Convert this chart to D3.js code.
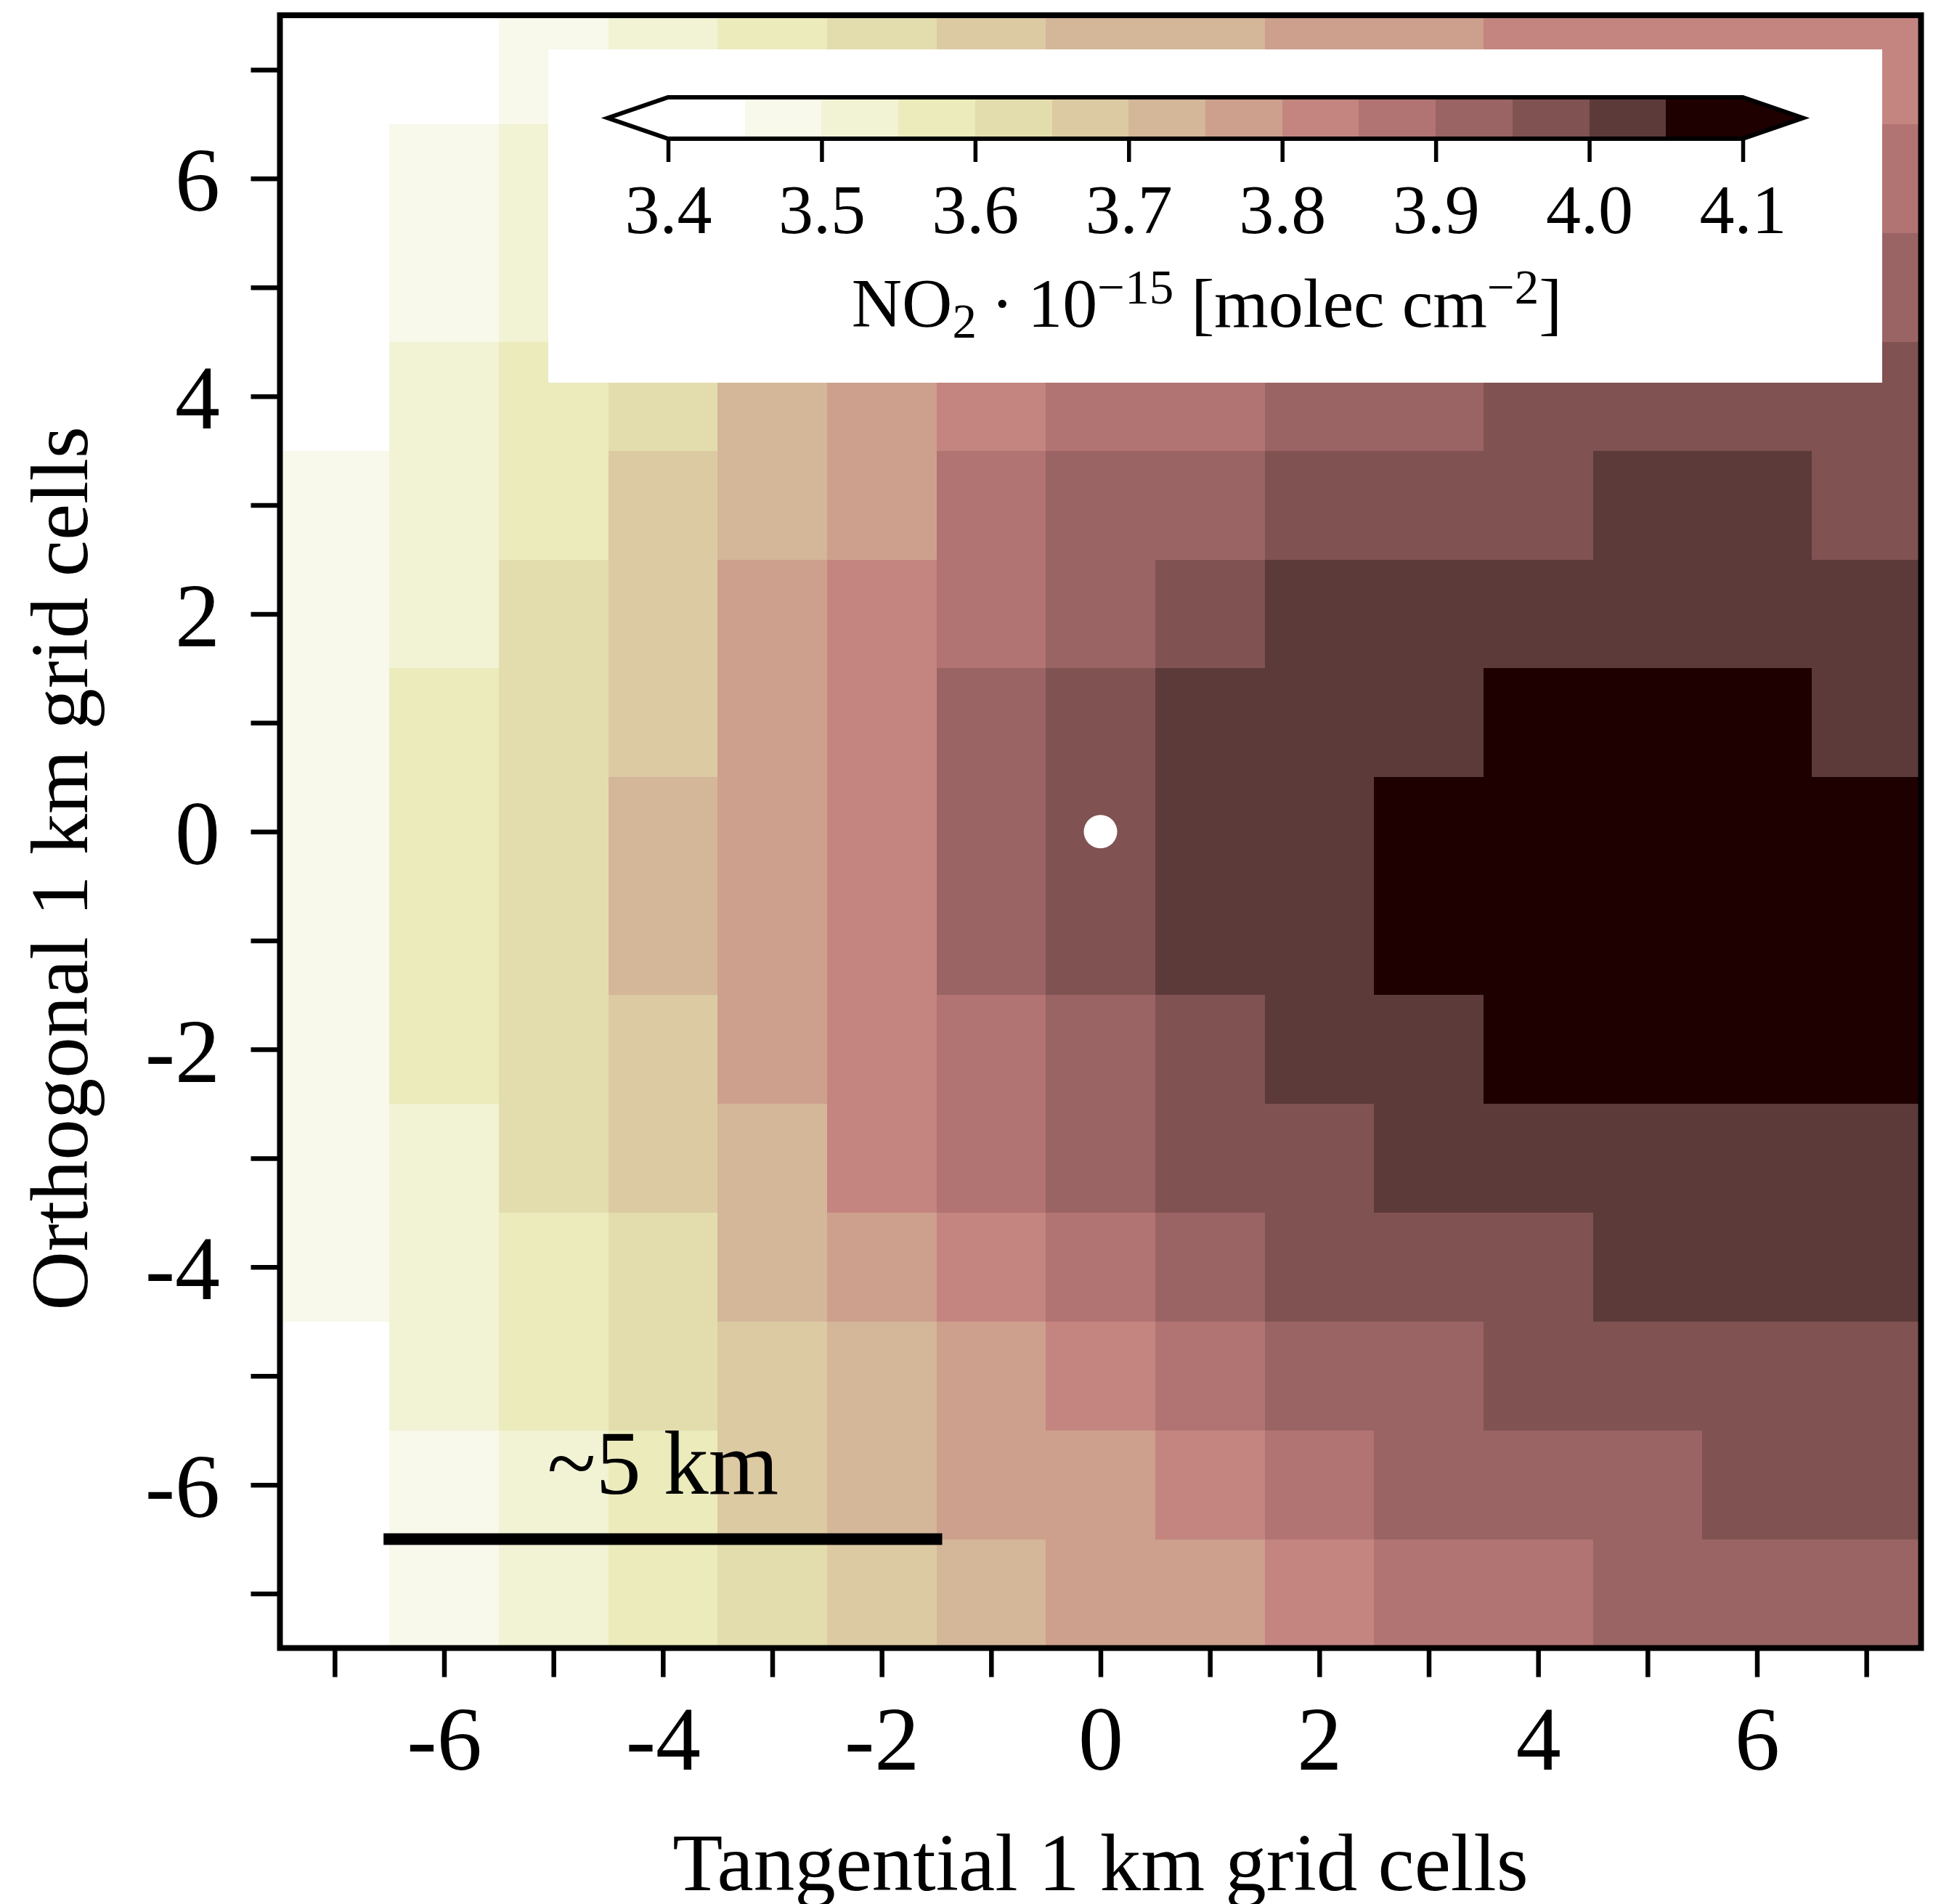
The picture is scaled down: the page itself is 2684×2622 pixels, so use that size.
<!DOCTYPE html>
<html>
<head>
<meta charset="utf-8">
<script src="https://cdn.jsdelivr.net/npm/d3@7"></script>
<style>
  body { margin: 0; background: #fff; }
  svg { display: block; }
  text { font-family: "Liberation Serif", "Times New Roman", serif; fill: #000; }
</style>
</head>
<body>
<svg id="chart" width="2684" height="2622"></svg>
<script>
// ---------------- DATA ----------------
const xCells = [-7, -6, -5, -4, -3, -2, -1, 0, 1, 2, 3, 4, 5, 6, 7];
const yCells = [7, 6, 5, 4, 3, 2, 1, 0, -1, -2, -3, -4, -5, -6, -7];
const xTicks = [-6, -4, -2, 0, 2, 4, 6];
const yTicks = [-6, -4, -2, 0, 2, 4, 6];
const levels = [3.40, 3.45, 3.50, 3.55, 3.60, 3.65, 3.70, 3.75, 3.80, 3.85, 3.90, 3.95, 4.00, 4.05, 4.10];
const colorbarTicks = [3.4, 3.5, 3.6, 3.7, 3.8, 3.9, 4.0, 4.1];

// NO2 * 1e-15 [molec cm^-2], one array per orthogonal row (y = 7 ... -7), columns x = -7 ... 7
const rowP7 = [3.38, 3.42, 3.47, 3.52, 3.58, 3.63, 3.68, 3.72, 3.74, 3.77, 3.79, 3.81, 3.82, 3.83, 3.83];
const rowP6 = [3.41, 3.46, 3.53, 3.58, 3.63, 3.68, 3.73, 3.77, 3.79, 3.82, 3.84, 3.86, 3.87, 3.88, 3.87];
const rowP5 = [3.42, 3.48, 3.53, 3.59, 3.66, 3.72, 3.78, 3.82, 3.84, 3.87, 3.89, 3.91, 3.92, 3.93, 3.92];
const rowP4 = [3.43, 3.52, 3.57, 3.62, 3.72, 3.78, 3.82, 3.86, 3.88, 3.91, 3.93, 3.96, 3.97, 3.98, 3.97];
const rowP3 = [3.46, 3.53, 3.58, 3.68, 3.73, 3.78, 3.87, 3.91, 3.94, 3.96, 3.98, 3.99, 4.01, 4.02, 3.99];
const rowP2 = [3.47, 3.54, 3.62, 3.67, 3.77, 3.82, 3.88, 3.93, 3.97, 4.01, 4.02, 4.03, 4.04, 4.04, 4.02];
const rowP1 = [3.48, 3.56, 3.61, 3.69, 3.78, 3.83, 3.92, 3.98, 4.02, 4.03, 4.04, 4.07, 4.09, 4.08, 4.04];
const row0  = [3.48, 3.57, 3.62, 3.71, 3.78, 3.84, 3.93, 3.99, 4.03, 4.04, 4.07, 4.11, 4.13, 4.12, 4.09];
const rowM1 = [3.47, 3.56, 3.62, 3.71, 3.77, 3.83, 3.92, 3.98, 4.02, 4.04, 4.06, 4.10, 4.12, 4.11, 4.08];
const rowM2 = [3.47, 3.56, 3.61, 3.69, 3.77, 3.82, 3.88, 3.93, 3.98, 4.02, 4.04, 4.06, 4.08, 4.07, 4.06];
const rowM3 = [3.46, 3.54, 3.61, 3.68, 3.73, 3.81, 3.87, 3.92, 3.96, 3.98, 4.01, 4.03, 4.04, 4.03, 4.02];
const rowM4 = [3.46, 3.53, 3.58, 3.63, 3.72, 3.77, 3.83, 3.87, 3.92, 3.96, 3.98, 3.99, 4.01, 4.02, 4.01];
const rowM5 = [3.44, 3.52, 3.57, 3.62, 3.68, 3.73, 3.78, 3.83, 3.87, 3.91, 3.93, 3.96, 3.97, 3.98, 3.97];
const rowM6 = [3.43, 3.48, 3.53, 3.58, 3.67, 3.72, 3.77, 3.79, 3.83, 3.88, 3.91, 3.93, 3.94, 3.96, 3.96];
const rowM7 = [3.42, 3.47, 3.52, 3.57, 3.63, 3.68, 3.72, 3.77, 3.79, 3.82, 3.86, 3.88, 3.91, 3.92, 3.93];
const grid = [rowP7, rowP6, rowP5, rowP4, rowP3, rowP2, rowP1, row0, rowM1, rowM2, rowM3, rowM4, rowM5, rowM6, rowM7];

const sourcePoint = [0, 0];
const scaleBar = { x0: -6.5, x1: -1.5, y: -6.5, label: "~5 km", labelX: -4, labelY: -6.08 };

// ---------------- COLORMAP (pink_r, 14 discrete colours) ----------------
const pinkTable = (() => {
  const t = [];
  for (let k = 0; k < 64; k++) {
    const g = k / 63;
    const hr = k < 24 ? (k + 1) / 24 : 1;
    const hg = k < 24 ? 0 : (k < 48 ? (k - 23) / 24 : 1);
    const hb = k < 48 ? 0 : (k - 47) / 16;
    t.push([Math.sqrt((2 * g + hr) / 3), Math.sqrt((2 * g + hg) / 3), Math.sqrt((2 * g + hb) / 3)]);
  }
  return t;
})();
function pink(v) {
  const p = Math.max(0, Math.min(1, v)) * 63;
  const i = Math.min(62, Math.floor(p));
  const f = p - i;
  const a = pinkTable[i], b = pinkTable[i + 1];
  return d3.rgb(
    Math.round(255 * (a[0] + (b[0] - a[0]) * f)),
    Math.round(255 * (a[1] + (b[1] - a[1]) * f)),
    Math.round(255 * (a[2] + (b[2] - a[2]) * f))
  ).formatHex();
}
const nBins = levels.length - 1;
const palette = d3.range(nBins).map(i => pink(1 - i / (nBins - 1)));
const color = d3.scaleThreshold()
  .domain(levels)
  .range([palette[0], ...palette, palette[nBins - 1]]);

// ---------------- LAYOUT ----------------
const svg = d3.select("#chart");
svg.append("rect").attr("width", 2684).attr("height", 2622).attr("fill", "#fff");

const plot = { left: 385.5, right: 2645.5, top: 21, bottom: 2269.5 };
const x = d3.scaleLinear().domain([-7.5, 7.5]).range([plot.left, plot.right]);
const y = d3.scaleLinear().domain([-7.5, 7.5]).range([plot.bottom, plot.top]);

// cells
const cells = [];
grid.forEach((row, i) => row.forEach((v, j) => cells.push({ cx: xCells[j], cy: yCells[i], v })));
svg.append("g").attr("shape-rendering", "crispEdges")
  .selectAll("rect").data(cells).join("rect")
  .attr("x", d => x(d.cx - 0.5))
  .attr("y", d => y(d.cy + 0.5))
  .attr("width", d => x(d.cx + 0.5) - x(d.cx - 0.5) + 0.5)
  .attr("height", d => y(d.cy - 0.5) - y(d.cy + 0.5) + 0.5)
  .attr("fill", d => color(d.v));

// source point
svg.append("circle")
  .attr("cx", x(sourcePoint[0])).attr("cy", y(sourcePoint[1]))
  .attr("r", 23).attr("fill", "#fff");

// scale bar
svg.append("line")
  .attr("x1", x(scaleBar.x0)).attr("x2", x(scaleBar.x1))
  .attr("y1", y(scaleBar.y)).attr("y2", y(scaleBar.y))
  .attr("stroke", "#000").attr("stroke-width", 16).attr("stroke-linecap", "square");
svg.append("text")
  .attr("x", x(scaleBar.labelX)).attr("y", y(scaleBar.labelY))
  .attr("text-anchor", "middle").attr("font-size", 124)
  .text(scaleBar.label);

// axes
const xAxis = d3.axisBottom(x).tickValues(xCells).tickSize(40)
  .tickFormat(d => xTicks.includes(d) ? String(d) : "");
const gx = svg.append("g").attr("transform", `translate(0,${plot.bottom})`).call(xAxis)
  .attr("font-size", null).attr("font-family", null);
gx.select(".domain").remove();
gx.selectAll(".tick line").attr("stroke", "#000").attr("stroke-width", 6.5);
gx.selectAll(".tick text").attr("y", 167.5).attr("dy", null).attr("font-size", 124).attr("fill", "#000");

const yAxis = d3.axisLeft(y).tickValues(yCells).tickSize(40)
  .tickFormat(d => yTicks.includes(d) ? String(d) : "");
const gy = svg.append("g").attr("transform", `translate(${plot.left},0)`).call(yAxis)
  .attr("font-size", null).attr("font-family", null);
gy.select(".domain").remove();
gy.selectAll(".tick line").attr("stroke", "#000").attr("stroke-width", 6.5);
gy.selectAll(".tick text").attr("x", -82.5).attr("y", 44).attr("dy", null)
  .attr("font-size", 124).attr("fill", "#000").attr("text-anchor", "end");

// spines
svg.append("rect")
  .attr("x", plot.left).attr("y", plot.top)
  .attr("width", plot.right - plot.left).attr("height", plot.bottom - plot.top)
  .attr("fill", "none").attr("stroke", "#000").attr("stroke-width", 8);

// axis labels
svg.append("text").attr("x", (plot.left + plot.right) / 2).attr("y", 2603)
  .attr("text-anchor", "middle").attr("font-size", 113)
  .text("Tangential 1 km grid cells");
svg.append("text").attr("transform", "translate(120,1196) rotate(-90)")
  .attr("text-anchor", "middle").attr("font-size", 113)
  .text("Orthogonal 1 km grid cells");

// ---------------- COLORBAR ----------------
const box = { x: 755, y: 68, w: 1837, h: 459 };
svg.append("rect").attr("x", box.x).attr("y", box.y).attr("width", box.w).attr("height", box.h).attr("fill", "#fff");

const cb = { x0: 920, x1: 2400, top: 134, bottom: 191, ext: 83 };
const cbx = d3.scaleLinear().domain([levels[0], levels[nBins]]).range([cb.x0, cb.x1]);
const cbMid = (cb.top + cb.bottom) / 2;
const gcb = svg.append("g");
gcb.append("g").attr("shape-rendering", "crispEdges")
  .selectAll("rect").data(d3.range(nBins)).join("rect")
  .attr("x", i => cbx(levels[i]))
  .attr("width", i => cbx(levels[i + 1]) - cbx(levels[i]) + 0.5)
  .attr("y", cb.top).attr("height", cb.bottom - cb.top)
  .attr("fill", i => color((levels[i] + levels[i + 1]) / 2));
gcb.append("path")
  .attr("d", `M${cb.x0},${cb.top} L${cb.x0 - cb.ext},${cbMid} L${cb.x0},${cb.bottom} Z`)
  .attr("fill", color(levels[0] - 0.01));
gcb.append("path")
  .attr("d", `M${cb.x1},${cb.top} L${cb.x1 + cb.ext},${cbMid} L${cb.x1},${cb.bottom} Z`)
  .attr("fill", color(levels[nBins] + 0.01));
gcb.append("path")
  .attr("d", `M${cb.x0},${cb.top} L${cb.x1},${cb.top} L${cb.x1 + cb.ext},${cbMid} L${cb.x1},${cb.bottom} L${cb.x0},${cb.bottom} L${cb.x0 - cb.ext},${cbMid} Z`)
  .attr("fill", "none").attr("stroke", "#000").attr("stroke-width", 6).attr("stroke-linejoin", "miter");

const cbAxis = d3.axisBottom(cbx).tickValues(colorbarTicks).tickSize(32).tickFormat(d3.format(".1f"));
const gcbAxis = gcb.append("g").attr("transform", `translate(0,${cb.bottom})`).call(cbAxis)
  .attr("font-size", null).attr("font-family", null);
gcbAxis.select(".domain").remove();
gcbAxis.selectAll(".tick line").attr("stroke", "#000").attr("stroke-width", 5.5);
gcbAxis.selectAll(".tick text").attr("y", 130).attr("dy", null).attr("font-size", 96).attr("fill", "#000");

const cbLabel = gcb.append("text").attr("x", 1662).attr("y", 450)
  .attr("text-anchor", "middle").attr("font-size", 96);
cbLabel.append("tspan").text("NO");
cbLabel.append("tspan").attr("font-size", 67).attr("dy", 15).text("2");
cbLabel.append("tspan").attr("dy", -15).text("\u2009·\u200910");
cbLabel.append("tspan").attr("font-size", 67).attr("dy", -32).text("\u221215");
cbLabel.append("tspan").attr("dy", 32).text(" [molec cm");
cbLabel.append("tspan").attr("font-size", 67).attr("dy", -32).text("\u22122");
cbLabel.append("tspan").attr("dy", 32).text("]");
</script>
</body>
</html>
